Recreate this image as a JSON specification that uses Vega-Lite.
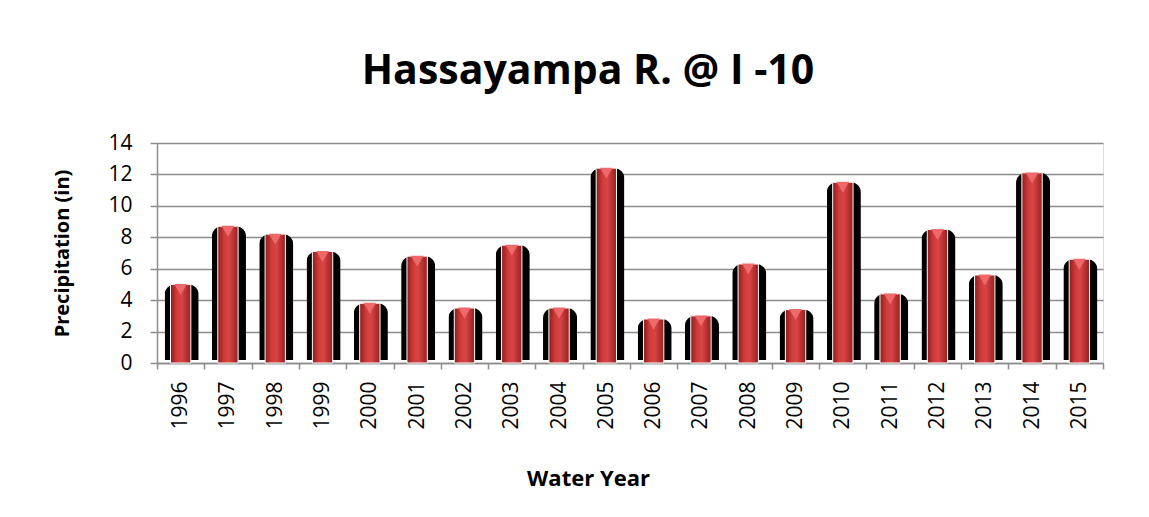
{
  "$schema": "https://vega.github.io/schema/vega-lite/v6.json",
  "width": 946,
  "height": 220,
  "autosize": {"type": "none"},
  "padding": {"left": 157, "top": 143, "right": 46, "bottom": 154},
  "background": "white",
  "title": {
    "text": "Hassayampa R. @ I -10",
    "font": "Open Sans",
    "fontSize": 41,
    "fontWeight": "bold",
    "color": "#000000",
    "anchor": "middle",
    "baseline": "alphabetic",
    "dx": -42,
    "offset": 7
  },
  "data": {
    "values": [
      {"year": "1996", "precip": 5.0},
      {"year": "1997", "precip": 8.7},
      {"year": "1998", "precip": 8.2},
      {"year": "1999", "precip": 7.1},
      {"year": "2000", "precip": 3.8},
      {"year": "2001", "precip": 6.8},
      {"year": "2002", "precip": 3.5},
      {"year": "2003", "precip": 7.5},
      {"year": "2004", "precip": 3.5},
      {"year": "2005", "precip": 12.4},
      {"year": "2006", "precip": 2.8},
      {"year": "2007", "precip": 3.0},
      {"year": "2008", "precip": 6.3},
      {"year": "2009", "precip": 3.4},
      {"year": "2010", "precip": 11.5},
      {"year": "2011", "precip": 4.4},
      {"year": "2012", "precip": 8.5},
      {"year": "2013", "precip": 5.6},
      {"year": "2014", "precip": 12.1},
      {"year": "2015", "precip": 6.6}
    ]
  },
  "encoding": {
    "x": {
      "field": "year",
      "type": "nominal",
      "sort": null,
      "scale": {"paddingInner": 0, "paddingOuter": 0},
      "axis": {
        "title": "Water Year",
        "titleFont": "Open Sans",
        "titleFontSize": 22,
        "titleFontWeight": "bold",
        "titleColor": "#000000",
        "titlePadding": 39,
        "titleX": 431,
        "titleAlign": "center",
        "labelAngle": -90,
        "labelFont": "Open Sans",
        "labelFontSize": 21,
        "labelColor": "#000000",
        "labelPadding": 12,
        "tickBand": "extent",
        "tickSize": 6,
        "tickColor": "#8c8c8c",
        "tickWidth": 1.5,
        "domainColor": "#8c8c8c",
        "domainWidth": 1.5,
        "grid": false
      }
    },
    "y": {
      "field": "precip",
      "type": "quantitative",
      "scale": {"domain": [0, 14], "nice": false},
      "axis": {
        "title": "Precipitation (in)",
        "titleFont": "Open Sans",
        "titleFontSize": 20,
        "titleFontWeight": "bold",
        "titleColor": "#000000",
        "titlePadding": 35,
        "values": [0, 2, 4, 6, 8, 10, 12, 14],
        "labelFont": "Open Sans",
        "labelFontSize": 21,
        "labelColor": "#000000",
        "labelPadding": 18,
        "tickSize": 7,
        "tickColor": "#8c8c8c",
        "tickWidth": 1.5,
        "domainColor": "#8c8c8c",
        "domainWidth": 1.5,
        "grid": true,
        "gridColor": "#8c8c8c",
        "gridWidth": 1.5
      }
    }
  },
  "layer": [
    {
      "mark": {
        "type": "bar",
        "color": "#000000",
        "width": {"band": 0.72},
        "cornerRadiusTopLeft": 10,
        "cornerRadiusTopRight": 10,
        "xOffset": 1,
        "yOffset": -3
      }
    },
    {
      "mark": {
        "type": "bar",
        "width": {"band": 0.43},
        "stroke": "#ffffff",
        "strokeWidth": 1,
        "fill": {
          "gradient": "linear",
          "x1": 0, "x2": 1, "y1": 0, "y2": 0,
          "stops": [
            {"offset": 0, "color": "#8e1b1b"},
            {"offset": 0.3, "color": "#cf3a3a"},
            {"offset": 0.55, "color": "#d94545"},
            {"offset": 1, "color": "#962020"}
          ]
        }
      }
    },
    {
      "mark": {
        "type": "point",
        "shape": "triangle-down",
        "filled": true,
        "fill": "#ee6a6a",
        "opacity": 1,
        "size": 160,
        "yOffset": 5
      }
    }
  ]
}
